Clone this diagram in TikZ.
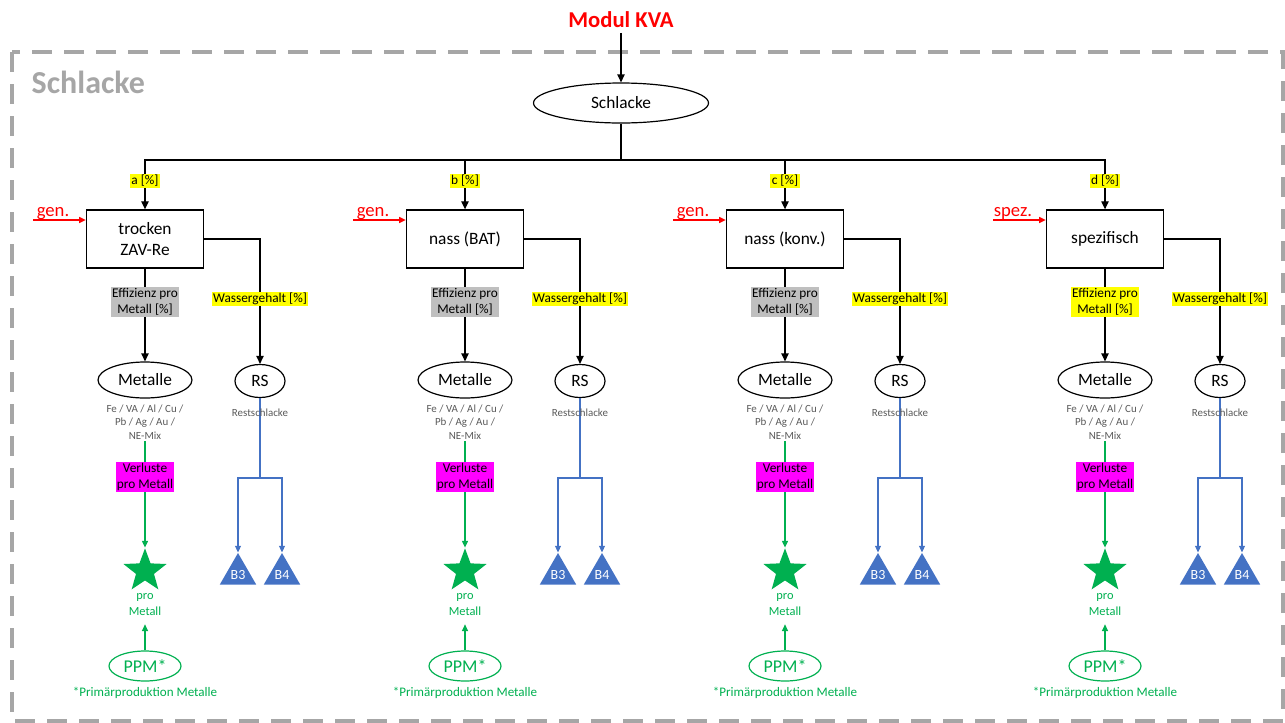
\documentclass[tikz,border=0pt]{standalone}
\usepackage{fontspec}
\setmainfont{Carlito}
\usetikzlibrary{shapes.geometric,arrows.meta}
\definecolor{kvared}{HTML}{FF0000}
\definecolor{framegray}{HTML}{A6A6A6}
\definecolor{hlyellow}{HTML}{FFFF00}
\definecolor{hlgray}{HTML}{BFBFBF}
\definecolor{hlmagenta}{HTML}{FF00FF}
\definecolor{metgreen}{HTML}{00B050}
\definecolor{depblue}{HTML}{4472C4}
\definecolor{notegray}{HTML}{595959}

\begin{document}
\begin{tikzpicture}[x=0.75pt,y=-0.75pt,
  arr/.style={-{Triangle[length=6pt,width=5.5pt]}},
  smallarr/.style={-{Triangle[length=5pt,width=4.5pt]}},
  conn/.style={draw=black,line width=0.9pt},
  stepbox/.style={draw,line width=1pt,minimum width=87.75pt,minimum height=43.5pt,
    align=center,font=\fontsize{13}{16}\selectfont},
  oval/.style={ellipse,draw,line width=0.9pt,inner sep=0pt},
  hl/.style={fill=#1,inner sep=1pt,align=center,font=\fontsize{10}{12}\selectfont},
  gentext/.style={text=kvared,font=\fontsize{14}{16}\selectfont,inner sep=0pt},
  notetext/.style={text=notegray,align=center,inner sep=1pt,font=\fontsize{8.2}{10.2}\selectfont},
  greentext/.style={text=metgreen,align=center,inner sep=1pt,font=\fontsize{9.3}{12}\selectfont},
  greenline/.style={draw=metgreen,line width=0.8pt},
  blueline/.style={draw=depblue,line width=0.8pt},
  metstar/.style={star,star points=5,star point ratio=2.4,minimum size=34pt,inner sep=0pt,
    fill=metgreen,draw=none},
  tri/.style={regular polygon,regular polygon sides=3,minimum size=31.5pt,inner sep=0pt,
    fill=depblue,draw=none},
  tritext/.style={text=white,inner sep=0pt,font=\fontsize{10.5}{12}\selectfont}
]
\useasboundingbox (0,0) rectangle (1285,722);

% dashed module frame and its title
\draw[framegray,line width=3.5pt,dash pattern=on 15pt off 9pt] (12,52) rectangle (1283,721);
\node[anchor=west,text=framegray,font=\fontsize{24}{28}\selectfont\bfseries] (title) at (27,82) {Schlacke};

% input from the KVA module
\node[text=kvared,font=\fontsize{17}{20}\selectfont\bfseries] (kva) at (621,20) {Modul KVA};
\node[oval,minimum width=131.25pt,minimum height=30pt,font=\fontsize{13}{15}\selectfont] (schl) at (621,103) {Schlacke};
\draw[conn,arr] (kva) -- (schl.north);
\coordinate (bus) at (621,160);
\draw[conn] (schl.south) -- (bus);

% one column per treatment route
\foreach \k/\lt/\txt/\gtxt/\efill in {0/a/{trocken\\ZAV-Re}/gen./hlgray,
                                      1/b/{nass (BAT)}/gen./hlgray,
                                      2/c/{nass (konv.)}/gen./hlgray,
                                      3/d/spezifisch/spez./hlyellow} {
  \pgfmathsetmacro\cx{145+320*\k}
  \pgfmathsetmacro\rx{260+320*\k}

  % treatment box with its share and input
  \node[stepbox] (box\k) at (\cx,239) {\txt};
  \draw[conn,arr] (bus) -| (box\k.north);
  \node[hl=hlyellow] (pct\k) at (\cx,181) {\lt\ [\%]};
  \coordinate (gen\k) at (\cx-112,220);
  \draw[kvared,line width=1pt,smallarr] (gen\k) -- (gen\k -| box\k.west);
  \node[gentext,anchor=base] (gl\k) at (\cx-92,216) {\gtxt};

  % metals branch
  \node[oval,minimum width=70.5pt,minimum height=27pt,font=\fontsize{13}{15}\selectfont] (met\k) at (\cx,380) {Metalle};
  \draw[conn,arr] (box\k.south) -- (met\k.north);
  \node[hl=\efill] (eff\k) at (\cx,302) {Effizienz pro\\Metall [\%]};
  \node[notetext] (fe\k) at (\cx,422) {Fe / VA / Al / Cu /\\Pb / Ag / Au /\\NE-Mix};
  \node[metstar] (star\k) at (\cx,571) {};
  \draw[greenline,smallarr] (fe\k.south) -- (star\k.north);
  \node[hl=hlmagenta,font=\fontsize{10}{12.5}\selectfont] (vl\k) at (\cx,477) {Verluste\\pro Metall};
  \node[greentext] (pm\k) at (\cx,605) {pro\\Metall};
  \node[oval,draw=metgreen,text=metgreen,minimum width=54pt,minimum height=22.5pt,
        font=\fontsize{13.5}{15}\selectfont] (ppm\k) at (\cx,666) {PPM*};
  \draw[greenline,smallarr,shorten >=5pt] (ppm\k.north) -- (pm\k.south);
  \node[greentext,font=\fontsize{9.8}{12}\selectfont] (pp\k) at (\cx,693) {*Primärproduktion Metalle};

  % residual slag branch
  \node[oval,minimum width=37.5pt,minimum height=24.75pt,font=\fontsize{13}{15}\selectfont] (rs\k) at (\rx,381) {RS};
  \draw[conn,arr] (box\k.east) -| (rs\k.north);
  \node[hl=hlyellow] (wg\k) at (\rx,299) {Wassergehalt [\%]};
  \coordinate (sp\k) at (\rx,478);
  \draw[blueline] (rs\k.south) -- (sp\k);
  \node[notetext] (rt\k) at (\rx,413) {Restschlacke};
  \node[tri] (b3\k) at (\rx-22,574) {};
  \node[tri] (b4\k) at (\rx+22,574) {};
  \node[tritext] (b3t\k) at (\rx-22,575) {B3};
  \node[tritext] (b4t\k) at (\rx+22,575) {B4};
  \draw[blueline,smallarr] (sp\k) -| (b3\k.corner 1);
  \draw[blueline,smallarr] (sp\k) -| (b4\k.corner 1);
}
\end{tikzpicture}
\end{document}
